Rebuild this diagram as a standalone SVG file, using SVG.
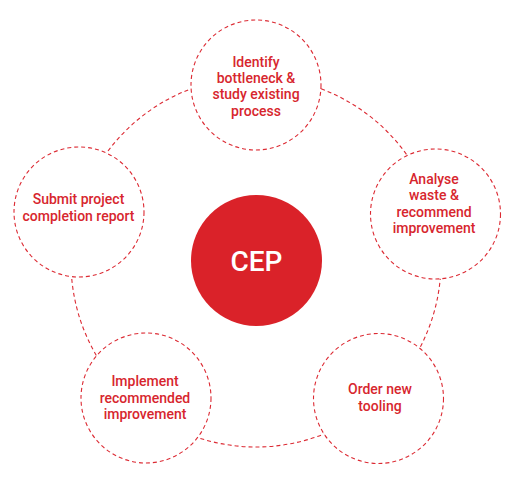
<svg xmlns="http://www.w3.org/2000/svg" width="514" height="485" viewBox="0 0 514 485">
<style>
.dash{fill:#fff;stroke:#dc2a33;stroke-width:1.1;stroke-dasharray:4 3}
.ring{fill:none;stroke:#dc2a33;stroke-width:1.1;stroke-dasharray:4 3}
.lbl{font-family:Roboto,"Liberation Sans",sans-serif;font-weight:500;font-size:14px;fill:#d7262e;text-anchor:middle}
.cep{font-family:Roboto,"Liberation Sans",sans-serif;font-weight:500;font-size:28px;fill:#fff;text-anchor:middle}
</style>
<rect width="514" height="485" fill="#fff"/>
<g id="connectors">
<circle class="ring" cx="256" cy="262" r="185"/>
</g>
<g id="node-cep">
<circle cx="256.5" cy="260.5" r="65.5" fill="#da2229"/>
<text class="cep" x="256.5" y="271">CEP</text>
</g>
<g id="node-identify">
<circle class="dash" cx="256" cy="85" r="65"/>
<text class="lbl" x="256" y="66.5">Identify</text>
<text class="lbl" x="256" y="83">bottleneck &amp;</text>
<text class="lbl" x="256" y="99.3">study existing</text>
<text class="lbl" x="256" y="115.5">process</text>
</g>
<g id="node-analyse">
<circle class="dash" cx="435.5" cy="214" r="65"/>
<text class="lbl" x="434" y="183.5">Analyse</text>
<text class="lbl" x="434" y="200">waste &amp;</text>
<text class="lbl" x="434" y="216.5">recommend</text>
<text class="lbl" x="434" y="232.8">improvement</text>
</g>
<g id="node-order">
<circle class="dash" cx="378.5" cy="398.5" r="65"/>
<text class="lbl" x="380" y="394">Order new</text>
<text class="lbl" x="380" y="410.5">tooling</text>
</g>
<g id="node-implement">
<circle class="dash" cx="146" cy="398" r="65"/>
<text class="lbl" x="145" y="386">Implement</text>
<text class="lbl" x="145" y="402.5">recommended</text>
<text class="lbl" x="145" y="419">improvement</text>
</g>
<g id="node-submit">
<circle class="dash" cx="79" cy="212" r="65"/>
<text class="lbl" x="78.5" y="204">Submit project</text>
<text class="lbl" x="78.5" y="221">completion report</text>
</g>
</svg>
